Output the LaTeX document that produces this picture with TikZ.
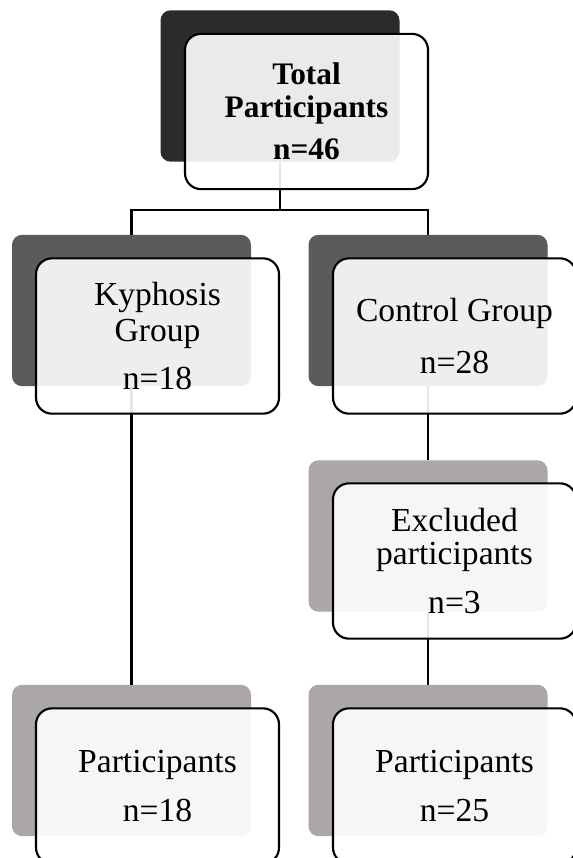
\documentclass[tikz,border=0pt]{standalone}
\usepackage{fontspec}
\setmainfont{Liberation Serif}
\definecolor{topback}{HTML}{2B2B2B}
\definecolor{grpback}{HTML}{5B5B5B}
\definecolor{lowback}{HTML}{ABA7A7}
\tikzset{
  backbox/.style={rectangle, rounded corners=7.5pt, inner sep=0pt,
    minimum width=179.25pt, minimum height=113.5pt},
  frontbox/.style={rectangle, rounded corners=12pt, inner sep=0pt,
    minimum width=182.25pt, minimum height=116.5pt, draw=black, line width=1.6pt,
    fill=white, fill opacity=0.9, text opacity=1, align=center,
    font=\fontsize{25.2}{27}\selectfont},
  boldtext/.style={font=\fontsize{23.5}{24.5}\selectfont\bfseries},
  link/.style={draw=black, line width=1.6pt}
}
\begin{document}
\begin{tikzpicture}[x=0.75pt, y=-0.75pt]
\useasboundingbox (0,0) rectangle (573,858);
% back boxes
\node[backbox, fill=topback] (tb) at (280,86) {};
\node[backbox, fill=grpback] (kb) at (131.5,310.5) {};
\node[backbox, fill=grpback] (cb) at (428,310.5) {};
\node[backbox, fill=lowback] (eb) at (428,536) {};
\node[backbox, fill=lowback] (pkb) at (131.5,760.5) {};
\node[backbox, fill=lowback] (pcb) at (428,760.5) {};
% connectors
\coordinate (bar) at (280,210);
\draw[link] (tb.south) -- (bar) -| (kb.north);
\draw[link] (bar) -| (cb.north);
\draw[link] (kb.south) -- (pkb.north);
\draw[link] (cb.south) -- (eb.north);
\draw[link] (eb.south) -- (pcb.north);
% front boxes
\node[frontbox, boldtext] (tf) at (306.5,111.5) {Total\\Participants\\[7pt]n=46};
\node[frontbox] (kf) at (157.5,336) {Kyphosis\\Group\\[9pt]n=18};
\node[frontbox] (cf) at (454.5,336) {Control Group\\[12pt]n=28};
\node[frontbox] (ef) at (454.5,561) {Excluded\\[-2pt]participants\\[10pt]n=3};
\node[frontbox] (pkf) at (157.5,786) {Participants\\[10pt]n=18};
\node[frontbox] (pcf) at (454.5,786) {Participants\\[10pt]n=25};
\end{tikzpicture}
\end{document}
